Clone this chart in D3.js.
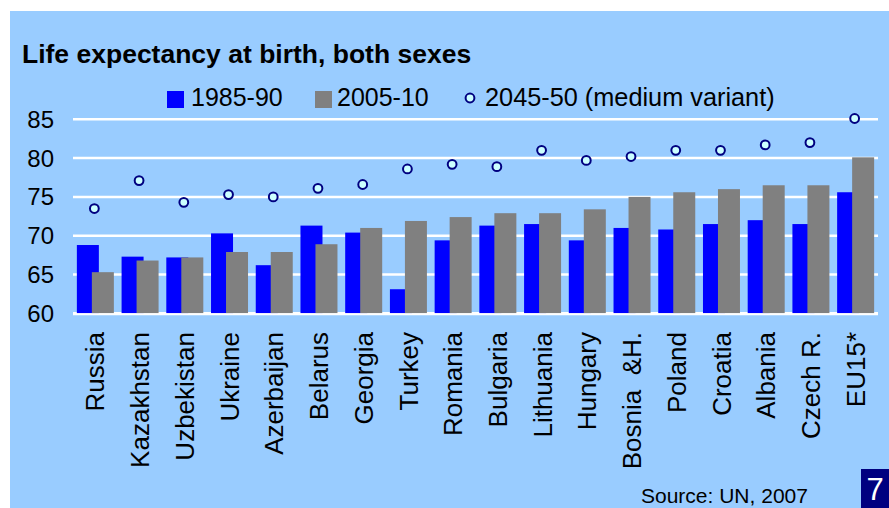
<!DOCTYPE html>
<html lang="en">
<head>
	<meta charset="UTF-8">
	<title>Life expectancy at birth</title>
	<script src="https://d3js.org/d3.v7.min.js"></script>
	<style>
		body {
			margin: 0;
			padding: 0;
			background: #ffffff;
		}
		svg text {
			font-family: "Liberation Sans", Arial, sans-serif;
			fill: #000000;
		}
	</style>
</head>
<body>
	<div id="chart"></div>
	<script>
		// data
		const countries = ["Russia", "Kazakhstan", "Uzbekistan", "Ukraine", "Azerbaijan", "Belarus", "Georgia",
			"Turkey", "Romania", "Bulgaria", "Lithuania", "Hungary", "Bosnia  &H.", "Poland", "Croatia",
			"Albania", "Czech R.", "EU15*"];
		const le1985 = [68.8, 67.3, 67.2, 70.3, 66.2, 71.3, 70.4, 63.1, 69.4, 71.3, 71.5, 69.4, 71.0, 70.8, 71.5, 72.0, 71.5, 75.6];
		const le2005 = [65.3, 66.8, 67.2, 67.9, 67.9, 68.9, 71.0, 71.9, 72.4, 72.9, 72.9, 73.4, 75.0, 75.6, 76.0, 76.5, 76.5, 80.1];
		const le2045 = [73.5, 77.1, 74.3, 75.3, 75.0, 76.1, 76.6, 78.6, 79.2, 78.9, 81.0, 79.7, 80.2, 81.0, 81.0, 81.7, 82.0, 85.1];
		const yTicks = [60, 65, 70, 75, 80, 85];
		const seriesNames = ["1985-90", "2005-10", "2045-50 (medium variant)"];

		const width = 889, height = 508;
		const svg = d3.select("#chart").append("svg")
			.attr("width", width)
			.attr("height", height);

		// light blue panel
		svg.append("rect")
			.attr("x", 10).attr("y", 11)
			.attr("width", width - 10).attr("height", height - 11)
			.attr("fill", "#99ccff");

		const x = d3.scaleBand().domain(countries).range([73, 878]);
		const y = d3.scaleLinear().domain([60, 85]).range([313.3, 119.3]);

		// gridlines
		svg.append("g").selectAll("line")
			.data(yTicks)
			.enter().append("line")
			.attr("x1", 73).attr("x2", 878)
			.attr("y1", d => y(d)).attr("y2", d => y(d))
			.attr("stroke", "#ffffff")
			.attr("stroke-width", 2.5);

		// y axis labels
		svg.append("g").selectAll("text")
			.data(yTicks)
			.enter().append("text")
			.attr("x", 54)
			.attr("y", d => y(d))
			.attr("dy", "0.35em")
			.attr("text-anchor", "end")
			.style("font-size", "24px")
			.text(d => d);

		const barW = 22;
		const mid = c => x(c) + x.bandwidth() / 2;

		// 1985-90 bars (blue), gray ones overlap them
		svg.append("g").selectAll("rect")
			.data(countries)
			.enter().append("rect")
			.attr("x", c => mid(c) - 18.5)
			.attr("width", barW)
			.attr("y", (c, i) => y(le1985[i]))
			.attr("height", (c, i) => y(60) - y(le1985[i]))
			.attr("fill", "#0000ff");

		svg.append("g").selectAll("rect")
			.data(countries)
			.enter().append("rect")
			.attr("x", c => mid(c) - 3.5)
			.attr("width", barW)
			.attr("y", (c, i) => y(le2005[i]))
			.attr("height", (c, i) => y(60) - y(le2005[i]))
			.attr("fill", "#808080");

		// redraw baseline over the bars
		svg.append("line")
			.attr("x1", 73).attr("x2", 878)
			.attr("y1", y(60) + 1).attr("y2", y(60) + 1)
			.attr("stroke", "#ffffff")
			.attr("stroke-width", 2);

		// 2045-50 markers
		svg.append("g").selectAll("circle")
			.data(countries)
			.enter().append("circle")
			.attr("cx", c => mid(c) - 1)
			.attr("cy", (c, i) => y(le2045[i]))
			.attr("r", 4.4)
			.attr("fill", "#ccffff")
			.attr("stroke", "#000080")
			.attr("stroke-width", 2);

		// category labels, rotated
		svg.append("g").selectAll("text")
			.data(countries)
			.enter().append("text")
			.attr("transform", c => `translate(${mid(c)},332) rotate(-90)`)
			.attr("text-anchor", "end")
			.attr("dy", "0.35em")
			.style("font-size", "26px")
			.style("white-space", "pre")
			.text(c => c);

		// title
		svg.append("text")
			.attr("x", 22).attr("y", 63)
			.style("font-size", "26.5px")
			.style("font-weight", "bold")
			.text("Life expectancy at birth, both sexes");

		// legend
		const legend = svg.append("g");
		legend.append("rect").attr("x", 167).attr("y", 91).attr("width", 17).attr("height", 17).attr("fill", "#0000ff");
		legend.append("text").attr("x", 191).attr("y", 106).style("font-size", "25px").text(seriesNames[0]);
		legend.append("rect").attr("x", 315).attr("y", 91).attr("width", 17).attr("height", 17).attr("fill", "#808080");
		legend.append("text").attr("x", 337).attr("y", 106).style("font-size", "25px").text(seriesNames[1]);
		legend.append("circle").attr("cx", 470).attr("cy", 98).attr("r", 4.4)
			.attr("fill", "#ccffff").attr("stroke", "#000080").attr("stroke-width", 2);
		legend.append("text").attr("x", 485).attr("y", 106).style("font-size", "25.3px").text(seriesNames[2]);

		// source note
		svg.append("text")
			.attr("x", 641).attr("y", 503)
			.style("font-size", "21px")
			.text("Source: UN, 2007");

		// page number box
		svg.append("rect")
			.attr("x", 861).attr("y", 469)
			.attr("width", 28).attr("height", 39)
			.attr("fill", "#000080");
		svg.append("text")
			.attr("x", 875).attr("y", 500)
			.attr("text-anchor", "middle")
			.style("font-size", "31px")
			.style("fill", "#ffffff")
			.text("7");
	</script>
</body>
</html>
